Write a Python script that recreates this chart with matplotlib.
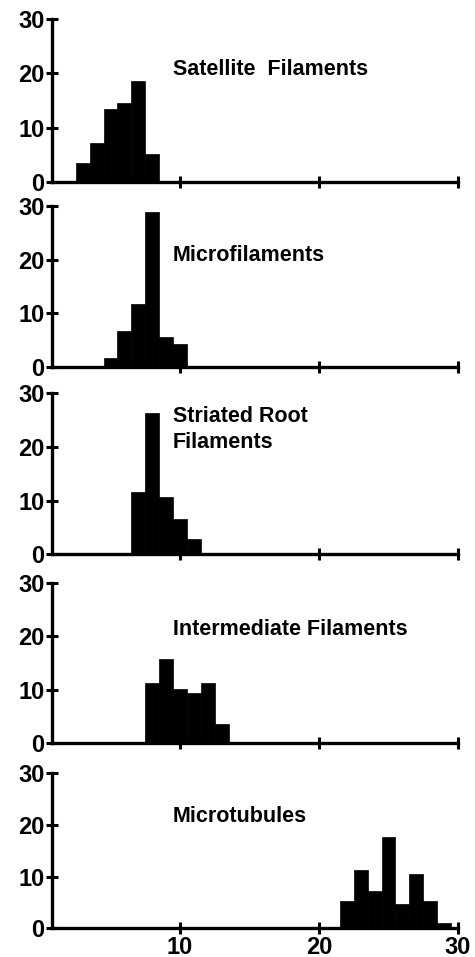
import matplotlib
matplotlib.use("Agg")
import matplotlib.pyplot as plt

plt.rcParams['font.family'] = ['Liberation Sans', 'DejaVu Sans']
plt.rcParams['font.weight'] = 'bold'

# diameter bins (nm) and counts
satellite_x = [3, 4, 5, 6, 7, 8]
satellite_n = [3.5, 7.1, 13.4, 14.6, 18.6, 5.2]

microfil_x = [5, 6, 7, 8, 9, 10]
microfil_n = [1.7, 6.7, 11.8, 28.9, 5.5, 4.2]

striated_x = [7, 8, 9, 10, 11]
striated_n = [11.6, 26.4, 10.6, 6.5, 2.9]

intermed_x = [8, 9, 10, 11, 12, 13]
intermed_n = [11.2, 15.8, 10.1, 9.3, 11.2, 3.6]

microtub_x = [22, 23, 24, 25, 26, 27, 28, 29]
microtub_n = [5.2, 11.2, 7.2, 17.6, 4.7, 10.6, 5.2, 1.0]

labels = ['Satellite  Filaments', 'Microfilaments', 'Striated Root\nFilaments',
          'Intermediate Filaments', 'Microtubules']
label_y = [19.7, 19.8, 19.9, 20.3, 20.6]

panels = [(satellite_x, satellite_n), (microfil_x, microfil_n),
          (striated_x, striated_n), (intermed_x, intermed_n),
          (microtub_x, microtub_n)]

# axes boxes in figure fractions (bottom, height)
boxes = [(0.8101, 0.1700), (0.6168, 0.1679), (0.4208, 0.1682),
         (0.2239, 0.1666), (0.0300, 0.1620)]

fig = plt.figure(figsize=(4.75, 9.57), dpi=100)

for i, ((xs, ns), (b, h)) in enumerate(zip(panels, boxes)):
    ax = fig.add_axes([0.1095, b, 0.8547, h])
    ax.bar(xs, ns, width=1.0, color='black', edgecolor='black', linewidth=0.5)
    ax.set_xlim(0.79, 30)
    ax.set_ylim(0, 30)
    ax.set_yticks([0, 10, 20, 30])
    ax.set_xticks([10, 20, 30])
    for s in ['top', 'right']:
        ax.spines[s].set_visible(False)
    for s in ['left', 'bottom']:
        ax.spines[s].set_linewidth(2.4)
    ax.tick_params(direction='inout', length=9, width=2.2, labelsize=17, pad=1)
    if i < 4:
        ax.set_xticklabels([])
    ax.text(9.5, label_y[i], labels[i], fontsize=15.5, fontweight='bold',
            va='baseline', ha='left', linespacing=1.3)
    for t in ax.get_yticklabels() + ax.get_xticklabels():
        t.set_fontweight('bold')

fig.savefig('out.png', dpi=100)
